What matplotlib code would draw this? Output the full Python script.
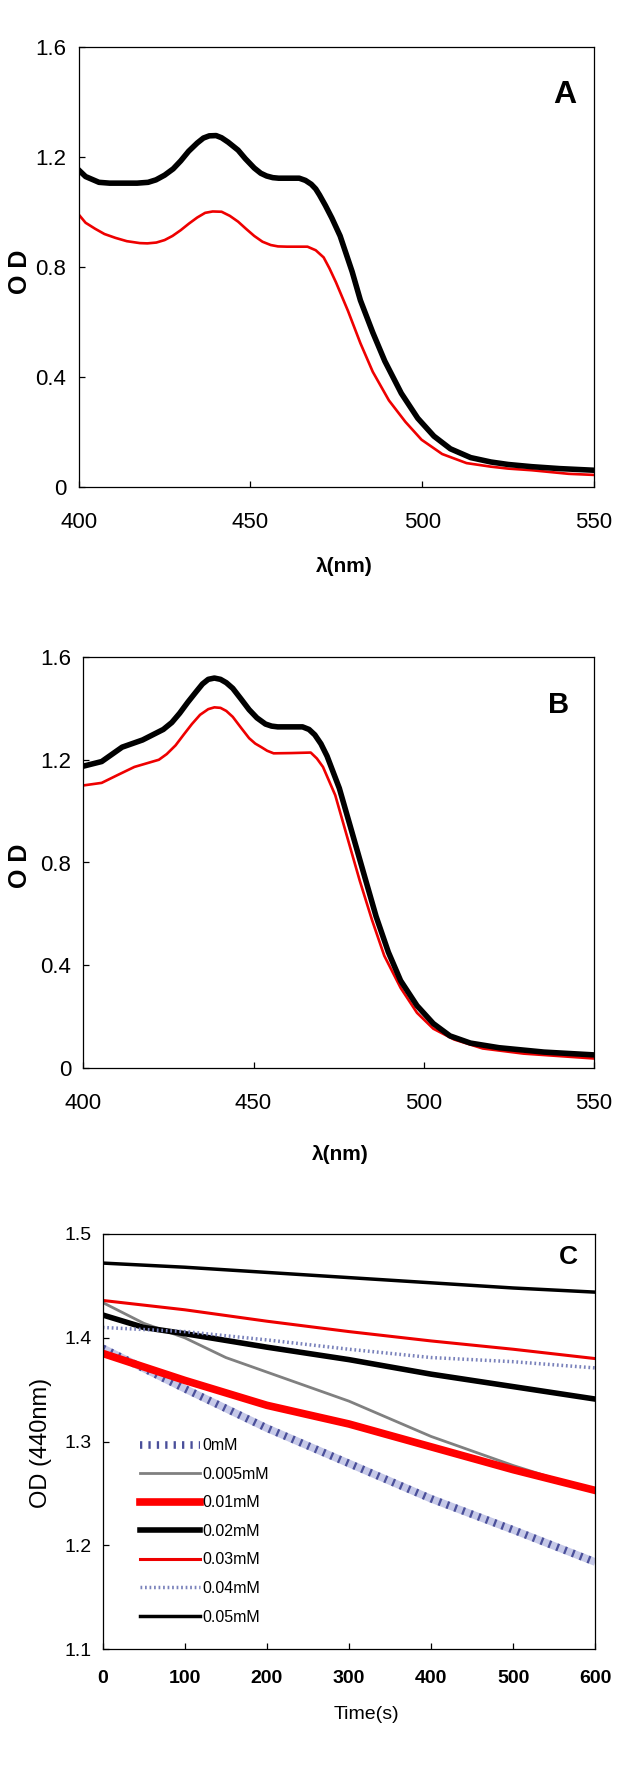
import matplotlib
matplotlib.use('Agg')
import matplotlib.pyplot as plt

# fonts: condensed look like the original
narrow = ['Liberation Sans Narrow', 'Liberation Sans', 'DejaVu Sans']
plain = ['Liberation Sans', 'DejaVu Sans']

# ---- panel A data (wavelength nm, OD) ----
a_black_x = [400, 402, 405.9, 409, 413, 417, 420.2, 422.5, 425, 427.5,
             429.7, 432, 434.5, 436.3, 438, 440, 441.6, 443.5, 446.4, 448.5,
             451.1, 453, 454.7, 456.5, 458.2, 461, 464.2, 466, 467.7, 469,
             470.1, 471.8, 473.7, 476.1, 479.6, 482.0, 485.6, 489.1, 493.9, 498.7,
             503.4, 508.2, 514.1, 520.0, 525, 531.9, 540, 550]
a_black_y = [1.154, 1.13, 1.109, 1.106, 1.106, 1.106, 1.109, 1.118, 1.135, 1.158,
             1.187, 1.222, 1.252, 1.270, 1.278, 1.279, 1.271, 1.255, 1.226, 1.195,
             1.161, 1.142, 1.132, 1.126, 1.124, 1.124, 1.124, 1.116, 1.102, 1.085,
             1.063, 1.025, 0.979, 0.914, 0.784, 0.680, 0.563, 0.459, 0.342, 0.251,
             0.186, 0.140, 0.108, 0.092, 0.083, 0.075, 0.068, 0.062]
a_red_x = [400, 402, 404.8, 407.5, 410.7, 414, 417.8, 420, 422.6, 425,
           427.3, 429.7, 432.1, 434.5, 436.8, 439, 441.6, 444, 446.4, 448.7,
           451.1, 453.5, 455.9, 458, 460.6, 463.5, 466.6, 469, 471.3, 473,
           474.9, 478.4, 482.0, 485.6, 490.3, 495.1, 499.8, 505.8, 512.9, 520.0,
           525, 531.9, 542.6, 550]
a_red_y = [0.992, 0.962, 0.940, 0.921, 0.907, 0.895, 0.888, 0.887, 0.890, 0.899,
           0.914, 0.935, 0.959, 0.981, 0.998, 1.003, 1.002, 0.987, 0.966, 0.940,
           0.914, 0.893, 0.881, 0.876, 0.875, 0.875, 0.875, 0.862, 0.836, 0.796,
           0.745, 0.641, 0.524, 0.420, 0.316, 0.238, 0.173, 0.121, 0.088, 0.075,
           0.068, 0.062, 0.049, 0.045]

# ---- panel B data ----
b_black_x = [400, 405.4, 411.4, 417.4, 423.5, 426, 428.3, 430.7, 433.1, 435,
             436.7, 438.5, 440.3, 442, 443.9, 446.3, 448.7, 451, 453.5, 455.3,
             457.1, 460.7, 464.4, 466.3, 468.0, 469.8, 471.6, 475.2, 478.8, 482.4,
             486.0, 489.6, 493.2, 498.0, 502.8, 507.7, 513.7, 522.1, 535.3, 550]
b_black_y = [1.175, 1.193, 1.249, 1.277, 1.318, 1.345, 1.381, 1.424, 1.464, 1.495,
             1.513, 1.518, 1.513, 1.500, 1.478, 1.437, 1.395, 1.363, 1.339, 1.331,
             1.328, 1.328, 1.328, 1.318, 1.297, 1.262, 1.214, 1.089, 0.923, 0.756,
             0.590, 0.451, 0.340, 0.243, 0.173, 0.125, 0.097, 0.079, 0.062, 0.051]
b_red_x = [400, 405.4, 410, 415, 422.2, 424.5, 427.1, 429.5, 431.9, 434.3,
           436.7, 438.5, 440.3, 442, 443.9, 446.3, 448.7, 450.5, 452.3, 454,
           455.9, 461, 466.8, 468.6, 470.4, 474, 477.6, 481.2, 484.8, 488.4,
           493.2, 498, 502.8, 508.9, 517.3, 529.3, 550]
b_red_y = [1.100, 1.110, 1.140, 1.172, 1.200, 1.222, 1.256, 1.298, 1.339, 1.375,
           1.397, 1.404, 1.402, 1.390, 1.367, 1.325, 1.284, 1.263, 1.249, 1.235,
           1.225, 1.226, 1.228, 1.205, 1.172, 1.062, 0.895, 0.729, 0.576, 0.437,
           0.312, 0.215, 0.153, 0.111, 0.076, 0.056, 0.037]

# ---- panel C data (time s, OD 440nm) ----
labels_c = ['0mM', '0.005mM', '0.01mM', '0.02mM', '0.03mM', '0.04mM', '0.05mM']
t_c = [0, 100, 200, 300, 400, 500, 600]
c_0mM = [1.390, 1.351, 1.313, 1.279, 1.245, 1.215, 1.184]
t_005 = [0, 50, 100, 150, 200, 300, 400, 500, 600]
c_005 = [1.434, 1.414, 1.400, 1.381, 1.367, 1.339, 1.305, 1.277, 1.252]
c_01 = [1.385, 1.359, 1.335, 1.317, 1.295, 1.273, 1.253]
t_02 = [0, 25, 50, 100, 200, 300, 400, 500, 600]
c_02 = [1.422, 1.416, 1.410, 1.404, 1.391, 1.379, 1.365, 1.353, 1.341]
c_03 = [1.436, 1.427, 1.416, 1.406, 1.397, 1.389, 1.380]
c_04 = [1.410, 1.406, 1.398, 1.389, 1.381, 1.377, 1.371]
c_05 = [1.472, 1.468, 1.463, 1.458, 1.453, 1.448, 1.444]

W, H = 641, 1769
fig = plt.figure(figsize=(W / 100, H / 100), dpi=100)


def style_axes(ax, tick_font, tsize, xpad, ypad, xbold=False):
    for sp in ax.spines.values():
        sp.set_linewidth(0.9)
    ax.tick_params(direction='in', length=4.5, width=0.9, top=False, right=False)
    ax.tick_params(axis='x', pad=xpad)
    ax.tick_params(axis='y', pad=ypad)
    for lab in ax.get_yticklabels():
        lab.set_family(tick_font)
        lab.set_fontsize(tsize[1])
    for lab in ax.get_xticklabels():
        lab.set_family(tick_font)
        lab.set_fontsize(tsize[0])
        if xbold:
            lab.set_fontweight('bold')


# Panel A
axA = fig.add_axes([78.7 / W, 1 - 487.3 / H, 515.3 / W, 440 / H])
axA.plot(a_red_x, a_red_y, color='#ee0000', lw=1.9, solid_joinstyle='round')
axA.plot(a_black_x, a_black_y, color='black', lw=4.0, solid_joinstyle='round')
axA.set_xlim(400, 550)
axA.set_ylim(0, 1.6)
axA.set_xticks([400, 450, 500, 550])
axA.set_yticks([0, 0.4, 0.8, 1.2, 1.6])
axA.set_yticklabels(['0', '0.4', '0.8', '1.2', '1.6'])
style_axes(axA, narrow, (16, 16), 18, 9)
axA.text(0.9435, 0.892, 'A', transform=axA.transAxes, ha='center', va='center',
         family=narrow, fontweight='bold', fontsize=23)

# Panel B
axB = fig.add_axes([83.3 / W, 1 - 1068 / H, 510.7 / W, 411 / H])
axB.plot(b_red_x, b_red_y, color='#ee0000', lw=1.9, solid_joinstyle='round')
axB.plot(b_black_x, b_black_y, color='black', lw=4.0, solid_joinstyle='round')
axB.set_xlim(400, 550)
axB.set_ylim(0, 1.6)
axB.set_xticks([400, 450, 500, 550])
axB.set_yticks([0, 0.4, 0.8, 1.2, 1.6])
axB.set_yticklabels(['0', '0.4', '0.8', '1.2', '1.6'])
style_axes(axB, narrow, (16, 16), 18, 8.5)
axB.text(0.931, 0.884, 'B', transform=axB.transAxes, ha='center', va='center',
         family=narrow, fontweight='bold', fontsize=21)

# Panel C
axC = fig.add_axes([102.7 / W, 1 - 1649.3 / H, 492.6 / W, 415.3 / H])
axC.plot(t_c, c_0mM, color='#c6c9e8', lw=5.5, solid_capstyle='butt')
h0, = axC.plot(t_c, c_0mM, color='#4a4f9a', lw=5.5, ls=(0, (0.3, 0.8)))
h1, = axC.plot(t_005, c_005, color='#808080', lw=2.0)
h2, = axC.plot(t_c, c_01, color='#ff0000', lw=5.5)
h3, = axC.plot(t_02, c_02, color='black', lw=4.0)
h4, = axC.plot(t_c, c_03, color='#ee0000', lw=2.2)
h5, = axC.plot(t_c, c_04, color='#7a82bb', lw=2.5, ls=(0, (0.5, 0.8)))
h6, = axC.plot(t_c, c_05, color='black', lw=2.5)
axC.set_xlim(0, 600)
axC.set_ylim(1.1, 1.5)
axC.set_xticks(range(0, 601, 100))
axC.set_yticks([1.1, 1.2, 1.3, 1.4, 1.5])
axC.set_yticklabels(['1.1', '1.2', '1.3', '1.4', '1.5'])
style_axes(axC, narrow, (14, 14), 15, 8, xbold=True)
axC.text(0.945, 0.945, 'C', transform=axC.transAxes, ha='center', va='center',
         family=narrow, fontweight='bold', fontsize=19)
leg = axC.legend([h0, h1, h2, h3, h4, h5, h6], labels_c, loc='center left',
                 bbox_to_anchor=(0.075, 0.284), frameon=False, borderpad=0, borderaxespad=0,
                 handlelength=3.8, handletextpad=0.1, labelspacing=0.85,
                 prop={'family': narrow, 'size': 11.5})

# axis titles
fig.text(344 / W, 1 - 567 / H, 'λ(nm)', ha='center', va='center', family=plain,
         fontweight='bold', fontsize=15)
fig.text(340 / W, 1 - 1155 / H, 'λ(nm)', ha='center', va='center', family=plain,
         fontweight='bold', fontsize=15)
fig.text(366.5 / W, 1 - 1714 / H, 'Time(s)', ha='center', va='center', family=plain,
         fontsize=14)
fig.text(19.6 / W, 1 - 272 / H, 'O D', ha='center', va='center', rotation=90,
         family=narrow, fontweight='bold', fontsize=18)
fig.text(19.6 / W, 1 - 866 / H, 'O D', ha='center', va='center', rotation=90,
         family=narrow, fontweight='bold', fontsize=18)
fig.text(41 / W, 1 - 1443 / H, 'OD (440nm)', ha='center', va='center', rotation=90,
         family=plain, fontsize=17)

fig.savefig('out.png', dpi=100)
